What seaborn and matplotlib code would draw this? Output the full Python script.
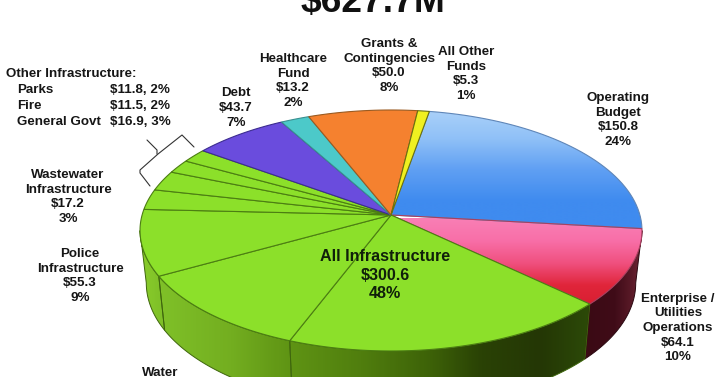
import numpy as np
import matplotlib
matplotlib.use("Agg")
import matplotlib.pyplot as plt
import matplotlib.transforms as mtransforms
from matplotlib.path import Path
import seaborn as sns

# ---------- data ----------
slice_names = ["Operating Budget", "Enterprise / Utilities Operations", "Infrastructure main", "Water",
               "Police Infrastructure", "Wastewater Infrastructure", "General Govt", "Fire", "Parks",
               "Debt", "Healthcare Fund", "Grants & Contingencies", "All Other Funds"]
slice_values = [150.8, 64.1, 118.1, 69.8, 55.3, 17.2, 16.9, 11.5, 11.8, 43.7, 13.2, 50.0, 5.3]
title_text = "$627.7M"

# ---------- style ----------
GREEN = "#8CE02A"
fill_colors = ["#6FAEF5", "#F0507F"] + [GREEN] * 7 + ["#6A4CDD", "#4CC9C9", "#F5812F", "#EFF020"]
edge_colors = ["#5F86B8", "#A84060"] + ["#4C7E12"] * 7 + ["#3C2C90", "#3A9090", "#9A5A20", "#6A7010"]

sns.set_theme(style="white")
plt.rcParams["font.family"] = ["Liberation Sans", "DejaVu Sans"]

W, H = 718, 377
fig = plt.figure(figsize=(W / 100, H / 100), dpi=100, facecolor="white")
ax = fig.add_axes([0, 0, 1, 1])

# perspective mapping of the unit pie onto the page
CX, CY, AX_, BY_, K = 391.0, 215.0, 248.9, 118.5, 0.1286
DROP_Y, MID_Y, SHRINK_X, STRETCH_Y = 283.0, 230.5, 0.975, 1.033


class Perspective(mtransforms.Transform):
    input_dims = 2
    output_dims = 2
    is_separable = False
    has_inverse = False

    def transform_non_affine(self, values):
        values = np.asarray(values, dtype=float)
        x, y = values[:, 0], values[:, 1]
        w = 1 + K * y
        return np.column_stack([CX + AX_ * x / w, CY - BY_ * y / w])

    def transform_path_non_affine(self, path):
        pts = []
        for curve, code in path.iter_bezier():
            if code == Path.MOVETO:
                pts.append(curve.control_points)
            else:
                pts.append(curve(np.linspace(0, 1, 24)))
        return Path(self.transform_non_affine(np.vstack(pts)))


wedges, _ = ax.pie(slice_values, startangle=80, counterclock=False, radius=1.0,
                   colors=fill_colors,
                   wedgeprops=dict(linewidth=0.8, zorder=5))
persp = Perspective()
for w, ec in zip(wedges, edge_colors):
    w.set_transform(persp + ax.transData)
    w.set_edgecolor(ec)

ax.set_aspect("auto")
ax.set_xlim(0, W)
ax.set_ylim(H, 0)
ax.axis("off")

# gradients on the top face
blue_cmap = sns.blend_palette(["#ACD2F9", "#8FC0F7", "#5F9FF3", "#3F8BEF", "#3F8BEF"], as_cmap=True)
pink_cmap = sns.blend_palette(["#F97FB5", "#F86FA8", "#F0507F", "#E0253A", "#D81E30"], as_cmap=True)
grad = np.linspace(0, 1, 256)[:, None]
for idx, cmap, y0, y1 in [(0, blue_cmap, 108, 232), (1, pink_cmap, 218, 308)]:
    im = ax.imshow(grad, cmap=cmap, extent=(130, 650, y1, y0), aspect="auto", zorder=4,
                   interpolation="bilinear")
    im.set_clip_path(wedges[idx])
    wedges[idx].set_facecolor("none")
ax.set_xlim(0, W)
ax.set_ylim(H, 0)

# side wall
green_wall = [(135, "#8CD02C"), (160, "#7FC028"), (230, "#73AE20"), (288, "#5F9414"),
              (360, "#507E0E"), (430, "#3D6208"), (480, "#2A4205"), (540, "#243705"), (590, "#2C4A08")]
red_wall = [(585, "#3A0A14"), (615, "#400C18"), (632, "#5A1A28"), (645, "#7A2C3C")]


def x_cmap(stops):
    xs = np.array([s[0] for s in stops], float)
    cols = sns.blend_palette([s[1] for s in stops], n_colors=256)
    pos = np.interp(np.linspace(xs[0], xs[-1], 256), xs, np.linspace(0, 1, len(xs)))
    rgb = np.array(cols)[(pos * 255).astype(int)]
    return rgb[None, :, :], xs[0], xs[-1]


def wall_polygon(w):
    th = np.radians(np.linspace(w.theta1, w.theta2, 120))
    th = th[np.sin(th) <= -K]
    if len(th) < 2:
        return None
    pts = persp.transform_non_affine(np.column_stack([np.cos(th), np.sin(th)]))
    xb = CX + (pts[:, 0] - CX) * SHRINK_X
    yb = DROP_Y + (pts[:, 1] - MID_Y) * STRETCH_Y
    return np.vstack([pts, np.column_stack([xb, yb])[::-1]])


for i, w in enumerate(wedges):
    poly = wall_polygon(w)
    if poly is None:
        continue
    stops = red_wall if i == 1 else green_wall
    rgb, x0, x1 = x_cmap(stops)
    pg = ax.fill(poly[:, 0], poly[:, 1], facecolor="none", edgecolor=("#2A0810" if i == 1 else "#3E660C"),
                 linewidth=0.7, zorder=3)[0]
    im = ax.imshow(rgb, extent=(x0, x1, H + 60, 100), aspect="auto", zorder=2, interpolation="bilinear")
    im.set_clip_path(pg)
ax.set_xlim(0, W)
ax.set_ylim(H, 0)

# ---------- text ----------
TXT = "#161616"
lab = dict(ha="center", va="center", fontsize=9.6, fontweight="bold", color=TXT, linespacing=1.29, zorder=8)
ax.text(373, 2.5, title_text, ha="center", va="center", fontsize=26.8, fontweight="bold", color="#111111", zorder=8)
ax.text(293, 81, "Healthcare\nFund\n$13.2\n2%", **lab)
ax.text(236, 108, "Debt\n$43.7\n7%", **lab)
ax.text(389, 66, "Grants &\nContingencies\n$50.0\n8%", **lab)
ax.text(466, 74, "All Other\nFunds\n$5.3\n1%", **lab)
ax.text(618, 120, "Operating\nBudget\n$150.8\n24%", **lab)
ax.text(678, 328, "Enterprise /\nUtilities\nOperations\n$64.1\n10%", **lab)
ax.text(68, 197, "Wastewater\nInfrastructure\n$17.2\n3%", **lab)
ax.text(80, 276, "Police\nInfrastructure\n$55.3\n9%", **lab)
ax.text(160, 373, "Water", **lab)
ax.text(385, 275, "All Infrastructure\n$300.6\n48%", ha="center", va="center", fontsize=11.6,
        fontweight="bold", color="#10200A", linespacing=1.29, zorder=8)

side = dict(va="center", fontsize=9.6, fontweight="bold", color=TXT, zorder=8)
ax.text(6, 74, "Other Infrastructure:", ha="left", **side)
for name, val, y in [("Parks", "$11.8, 2%", 90), ("Fire", "$11.5, 2%", 106), ("General Govt", "$16.9, 3%", 122)]:
    ax.text(17, y, name, ha="left", **side)
    ax.text(110, y, val, ha="left", **side)

# bracket
bracket_x = [194, 182, 158, 140, 140, 150]
bracket_y = [147, 135, 154, 170, 173, 186]
ax.plot(bracket_x, bracket_y, color="#333333", lw=0.8, zorder=7)
ax.plot([147, 157, 157], [140, 150, 154], color="#333333", lw=0.8, zorder=7)

fig.savefig("out.png", dpi=100, facecolor="white")
